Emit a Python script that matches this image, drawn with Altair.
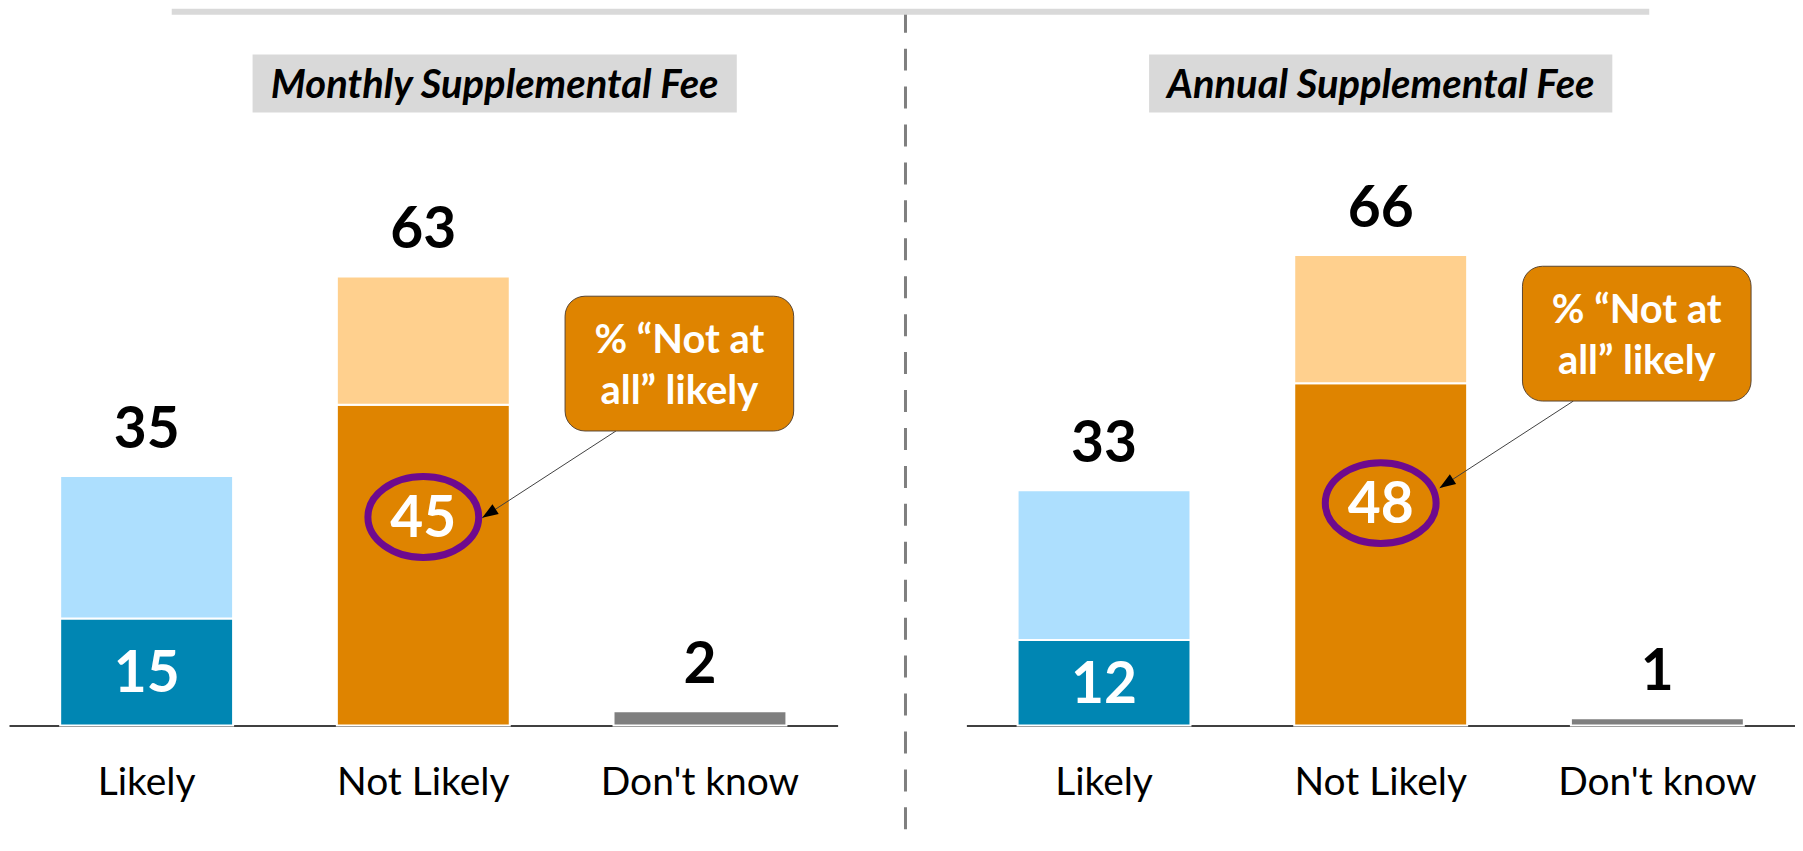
import altair as alt
import pandas as pd

# ---------------- data ----------------
categories = ["Likely", "Not Likely", "Don't know"]
panel_titles = ["Monthly Supplemental Fee", "Annual Supplemental Fee"]
monthly_total = [35, 63, 2]
monthly_strong = [15, 45, 0]      # "Very likely" / "Not at all likely"
annual_total = [33, 66, 1]
annual_strong = [12, 48, 0]
callout_lines = ["% \u201cNot at", "all\u201d likely"]

# ---------------- styles ----------------
FONT = "Lato"
strong_colors = ["#0086B3", "#DF8400", "#7F7F7F"]
light_colors = ["#ADDFFE", "#FFD08E", "#7F7F7F"]
PURPLE = "#6E0A8E"
ORANGE = "#DF8400"
GREY_BOX = "#D9D9D9"

W, H = 830, 714
y_scale = alt.Scale(domain=[0, 100], nice=False, zero=True)

color_domain = []
color_range = []
for c, dc, lc in zip(categories, strong_colors, light_colors):
    color_domain += [c + "|strong", c + "|rest"]
    color_range += [dc, lc]

X = alt.X(
    "cat:N",
    sort=categories,
    scale=alt.Scale(domain=categories, paddingInner=0.375, paddingOuter=0.185),
    axis=alt.Axis(
        title=None, ticks=False, tickSize=0, grid=False, domainColor="black",
        domainWidth=1.5, labelFontSize=39, labelColor="black", labelFont=FONT,
        labelPadding=69, labelBaseline="alphabetic", labelAngle=0, labelLimit=0,
    ),
)

ellipse_path = ("M-1,0 C-1,-0.403 -0.5523,-0.73 0,-0.73 C0.5523,-0.73 1,-0.403 1,0 "
                "C1,0.403 0.5523,0.73 0,0.73 C-0.5523,0.73 -1,0.403 -1,0 Z")
arrow_path = "M0,0 L0.36,1 L-0.36,1 Z"


def make_panel(title, total, strong, title_x0, title_x1, callout_top, extras):
    rows = []
    for c, t, s in zip(categories, total, strong):
        if s > 0:
            rows.append(dict(cat=c, y0=0, y1=s, key=c + "|strong"))
            rows.append(dict(cat=c, y0=s, y1=t, key=c + "|rest"))
        else:
            rows.append(dict(cat=c, y0=0, y1=t, key=c + "|strong"))
    bars_df = pd.DataFrame(rows)
    tot_df = pd.DataFrame({"cat": categories, "total": total,
                           "label": [str(v) for v in total]})
    inner_df = pd.DataFrame({"cat": [categories[0]], "mid": [strong[0] / 2],
                             "label": [str(strong[0])]})
    circ_df = pd.DataFrame({"cat": [categories[1]], "cy": [strong[1] * 0.65],
                            "label": [str(strong[1])]})
    one = pd.DataFrame({"a": [0]})

    bars = alt.Chart(bars_df).mark_bar(stroke="white", strokeWidth=2).encode(
        x=X,
        y=alt.Y("y0:Q", scale=y_scale, axis=None),
        y2="y1:Q",
        color=alt.Color("key:N", scale=alt.Scale(domain=color_domain, range=color_range),
                        legend=None),
    )
    top_labels = alt.Chart(tot_df).mark_text(
        font=FONT, fontSize=57, fontWeight="bold", color="black",
        baseline="alphabetic", align="center", dy=-28,
    ).encode(x=X, y=alt.Y("total:Q", scale=y_scale, axis=None), text="label:N")
    inner_labels = alt.Chart(inner_df).mark_text(
        font=FONT, fontSize=57, fontWeight="bold", color="white",
        baseline="alphabetic", align="center", dy=20,
    ).encode(x=X, y=alt.Y("mid:Q", scale=y_scale, axis=None), text="label:N")
    circle = alt.Chart(circ_df).mark_point(
        shape=ellipse_path, size=12321, filled=False, stroke=PURPLE,
        strokeWidth=7, opacity=1,
    ).encode(x=X, y=alt.Y("cy:Q", scale=y_scale, axis=None))
    circle_label = alt.Chart(circ_df).mark_text(
        font=FONT, fontSize=57, fontWeight="bold", color="white",
        baseline="alphabetic", align="center", dy=20,
    ).encode(x=X, y=alt.Y("cy:Q", scale=y_scale, axis=None), text="label:N")

    cb = callout_top + 135
    arrow_line = alt.Chart(one).mark_rule(color="#404040", strokeWidth=1).encode(
        x=alt.value(608), y=alt.value(cb), x2=alt.value(474), y2=alt.value(cb + 87))
    arrow_head = alt.Chart(one).mark_point(
        shape=arrow_path, size=1024, angle=237, filled=True, fill="black",
        strokeWidth=0, opacity=1,
    ).encode(x=alt.value(474), y=alt.value(cb + 87))
    callout_box = alt.Chart(one).mark_rect(
        fill=ORANGE, stroke="#5A4632", strokeWidth=1, cornerRadius=20,
    ).encode(x=alt.value(557), x2=alt.value(786),
             y=alt.value(callout_top), y2=alt.value(cb))
    callout_txt = [
        alt.Chart(one).mark_text(
            text=line, font=FONT, fontSize=40, fontWeight="bold", color="white",
            align="center", baseline="alphabetic",
        ).encode(x=alt.value(671.5), y=alt.value(callout_top + off))
        for line, off in zip(callout_lines, [57, 108])
    ]
    title_box = alt.Chart(one).mark_rect(fill=GREY_BOX).encode(
        x=alt.value(title_x0), x2=alt.value(title_x1), y=alt.value(42), y2=alt.value(100))
    title_txt = alt.Chart(one).mark_text(
        text=title, font=FONT, fontSize=40, fontWeight="bold", fontStyle="italic",
        color="black", align="center", baseline="alphabetic",
    ).encode(x=alt.value((title_x0 + title_x1) / 2), y=alt.value(85))

    layers = [bars, top_labels, inner_labels, circle, circle_label, arrow_line,
              arrow_head, callout_box] + callout_txt + [title_box, title_txt]
    if extras:
        divider = alt.Chart(one).mark_rule(
            color="#7F7F7F", strokeWidth=3, strokeDash=[22, 16]
        ).encode(x=alt.value(898), y=alt.value(-2), y2=alt.value(820))
        top_bar = alt.Chart(one).mark_rect(fill=GREY_BOX).encode(
            x=alt.value(163), x2=alt.value(1643), y=alt.value(-4), y2=alt.value(2))
        layers += [divider, top_bar]
    return alt.layer(*layers).properties(width=W, height=H)


left = make_panel(panel_titles[0], monthly_total, monthly_strong, 244, 729, 284, True)
right = make_panel(panel_titles[1], annual_total, annual_strong, 183, 647, 254, False)

chart = alt.hconcat(left, right, spacing=129, bounds="flush").properties(
    padding={"left": 1, "top": 0, "right": 0, "bottom": 0}
).configure(font=FONT).configure_view(strokeWidth=0)

chart.save("out.html", embed_options={"renderer": "svg", "actions": False})
